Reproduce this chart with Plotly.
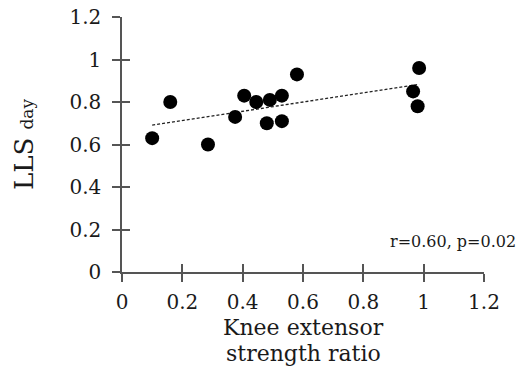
import numpy as np
import plotly.graph_objects as go

strength_ratio = [0.10, 0.16, 0.285, 0.375, 0.405, 0.445, 0.49, 0.48, 0.53, 0.53, 0.58, 0.985, 0.965, 0.98]
lls_day = [0.63, 0.80, 0.60, 0.73, 0.83, 0.80, 0.81, 0.70, 0.83, 0.71, 0.93, 0.96, 0.85, 0.78]
tick_vals = [0, 0.2, 0.4, 0.6, 0.8, 1.0, 1.2]
tick_text = ["0", "0.2", "0.4", "0.6", "0.8", "1", "1.2"]
stats_label = "r=0.60, p=0.02"

x = np.array(strength_ratio)
y = np.array(lls_day)
slope, intercept = np.polyfit(x, y, 1)
fit_x = np.array([x.min(), x.max()])
fit_y = slope * fit_x + intercept

FONT = "DejaVu Serif"
AX = "#555555"
TXT = "#1a1a1a"

fig = go.Figure()
fig.add_trace(go.Scatter(x=fit_x, y=fit_y, mode="lines",
                         line=dict(color="#222222", width=1.3, dash="3px,2px"),
                         hoverinfo="skip", showlegend=False))
fig.add_trace(go.Scatter(x=strength_ratio, y=lls_day, mode="markers",
                         marker=dict(color="black", size=14), showlegend=False))
fig.add_trace(go.Scatter(x=[0], y=[0], xaxis="x2", yaxis="y2", mode="markers",
                         marker=dict(opacity=0), hoverinfo="skip", showlegend=False))

axis_common = dict(range=[0, 1.2], tickvals=tick_vals, showgrid=False, zeroline=False,
                   showline=True, linecolor=AX, linewidth=1.5, ticks="outside",
                   ticklen=8, tickwidth=1.5, tickcolor=AX, automargin=False,
                   tickfont=dict(family=FONT, size=20, color=TXT))

fig.update_layout(
    width=523, height=379,
    margin=dict(l=122, r=39, t=17, b=107),
    paper_bgcolor="white", plot_bgcolor="white",
    xaxis=dict(**axis_common, ticktext=tick_text, ticklabelstandoff=3),
    yaxis=dict(**axis_common, ticktext=tick_text, ticklabelstandoff=7,
               title=dict(text="LLS <span style='font-size:17px'>day</span>",
                          font=dict(family=FONT, size=26, color=TXT), standoff=28)),
    xaxis2=dict(range=[0, 1.2], tickvals=tick_vals, overlaying="x", anchor="y2",
                showticklabels=False, ticks="inside", ticklen=8, tickwidth=1.5,
                tickcolor=AX, showgrid=False, zeroline=False, showline=False),
    yaxis2=dict(range=[0, 1.2], tickvals=tick_vals, overlaying="y", anchor="x2",
                showticklabels=False, ticks="inside", ticklen=8, tickwidth=1.5,
                tickcolor=AX, showgrid=False, zeroline=False, showline=False),
    annotations=[
        dict(text=stats_label, xref="paper", yref="paper", x=1.095, y=0.12,
             xanchor="right", yanchor="middle", showarrow=False,
             font=dict(family=FONT, size=16, color=TXT)),
        dict(text="Knee extensor", xref="paper", yref="paper", x=0.5, y=0,
             yshift=-55, xanchor="center", yanchor="middle", showarrow=False,
             font=dict(family=FONT, size=22, color=TXT)),
        dict(text="strength ratio", xref="paper", yref="paper", x=0.5, y=0,
             yshift=-81, xanchor="center", yanchor="middle", showarrow=False,
             font=dict(family=FONT, size=22, color=TXT)),
    ],
)

fig.write_html("out.html", config={"displayModeBar": False},
               post_script="document.body.style.margin='0';")
